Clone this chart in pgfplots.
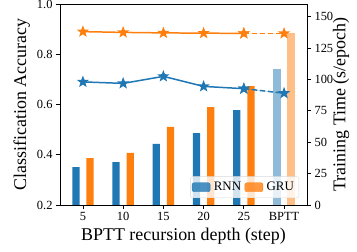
\documentclass[border=0pt]{standalone}
\usepackage{fontspec}
\setmainfont{Liberation Serif}
\usepackage{pgfplots}
\pgfplotsset{compat=1.18}
\definecolor{tblue}{HTML}{1F77B4}
\definecolor{torange}{HTML}{FF7F0E}
\definecolor{lblue}{HTML}{8FBBD9}
\definecolor{lorange}{HTML}{FFBF86}
\pgfdeclareplotmark{fstar}{%
  \pgfpathmoveto{\pgfpointpolar{90}{\pgfplotmarksize}}%
  \pgfpathlineto{\pgfpointpolar{126}{0.42\pgfplotmarksize}}%
  \pgfpathlineto{\pgfpointpolar{162}{\pgfplotmarksize}}%
  \pgfpathlineto{\pgfpointpolar{198}{0.42\pgfplotmarksize}}%
  \pgfpathlineto{\pgfpointpolar{234}{\pgfplotmarksize}}%
  \pgfpathlineto{\pgfpointpolar{270}{0.42\pgfplotmarksize}}%
  \pgfpathlineto{\pgfpointpolar{306}{\pgfplotmarksize}}%
  \pgfpathlineto{\pgfpointpolar{342}{0.42\pgfplotmarksize}}%
  \pgfpathlineto{\pgfpointpolar{18}{\pgfplotmarksize}}%
  \pgfpathlineto{\pgfpointpolar{54}{0.42\pgfplotmarksize}}%
  \pgfpathclose
  \pgfusepathqfillstroke}
\begin{document}
\begin{tikzpicture}
\pgfplotsset{
  common/.style={
    scale only axis, width=247bp, height=201bp,
    xmin=-0.57, xmax=5.57,
    tick label style={font=\fontsize{12.5}{14}\selectfont},
    label style={font=\fontsize{18}{20}\selectfont},
    /pgf/number format/assume math mode=true,
    tick align=outside, major tick length=4bp,
    axis line style={line width=0.8pt},
    every tick/.style={black, line width=0.8pt},
  },
}
\path[use as bounding box] (-60bp,-47bp) rectangle (297bp,205bp);
% bars, right axis
\begin{axis}[common,
  ymin=0, ymax=160,
  ytick={0,25,50,75,100,125,150},
  ytick pos=right, yticklabel pos=right,
  xtick=\empty,
  ylabel={Training Time (s/epoch)},
  ylabel style={at={(1,0.5)}, anchor=center, yshift=-34bp},
  legend columns=2,
  legend style={at={(0.968,0.035)}, anchor=south east,
    fill=white, fill opacity=0.8, text opacity=1, draw=gray!30,
    rounded corners=2pt, font=\fontsize{13}{15}\selectfont,
    nodes={inner xsep=3.5bp, inner ysep=3bp},
    /tikz/every even column/.append style={column sep=0bp},
    inner xsep=1.5bp, inner ysep=2.5bp},
]
\addplot[ybar, bar width=0.18, bar shift=-0.175, fill=tblue, draw=none, forget plot]
  coordinates {(0,30.2) (1,34.2) (2,48.6) (3,57.3) (4,75.6)};
\addplot[ybar, bar width=0.18, bar shift=0.175, fill=torange, draw=none, forget plot]
  coordinates {(0,37.4) (1,41.4) (2,62.1) (3,78.0) (4,94.7)};
\addplot[ybar, bar width=0.18, bar shift=-0.175, fill=lblue, draw=none, forget plot]
  coordinates {(5,108.3)};
\addplot[ybar, bar width=0.18, bar shift=0.175, fill=lorange, draw=none, forget plot]
  coordinates {(5,137.0)};
\addlegendimage{legend image code/.code={\fill[tblue] (0bp,-4.5bp) rectangle (18bp,4.5bp);}}
\addlegendentry{RNN}
\addlegendimage{legend image code/.code={\fill[torange] (0bp,-4.5bp) rectangle (18bp,4.5bp);}}
\addlegendentry{GRU}
\end{axis}
% lines, left axis
\begin{axis}[common,
  ymin=0.2, ymax=1.0,
  ytick={0.2,0.4,0.6,0.8,1.0},
  yticklabel style={/pgf/number format/.cd, fixed, fixed zerofill, precision=1},
  ytick pos=left,
  xtick={0,1,2,3,4,5}, xticklabels={5,10,15,20,25,BPTT},
  xtick pos=bottom,
  xlabel={BPTT recursion depth (step)},
  ylabel={Classification Accuracy},
]
\addplot[torange, line width=1.5pt, mark=fstar, mark size=4.2bp]
  coordinates {(0,0.890) (1,0.887) (2,0.885) (3,0.884) (4,0.883)};
\addplot[draw=torange, fill=torange, line width=1.5pt, dash pattern=on 5.5bp off 2.5bp, mark=fstar, mark size=4.2bp, mark options={solid, torange}]
  coordinates {(4,0.883) (5,0.883)};
\addplot[tblue, line width=1.5pt, mark=fstar, mark size=4.2bp]
  coordinates {(0,0.690) (1,0.684) (2,0.712) (3,0.672) (4,0.663)};
\addplot[draw=tblue, fill=tblue, line width=1.5pt, dash pattern=on 5.5bp off 2.5bp, mark=fstar, mark size=4.2bp, mark options={solid, tblue}]
  coordinates {(4,0.663) (5,0.645)};
\end{axis}
\end{tikzpicture}
\end{document}
